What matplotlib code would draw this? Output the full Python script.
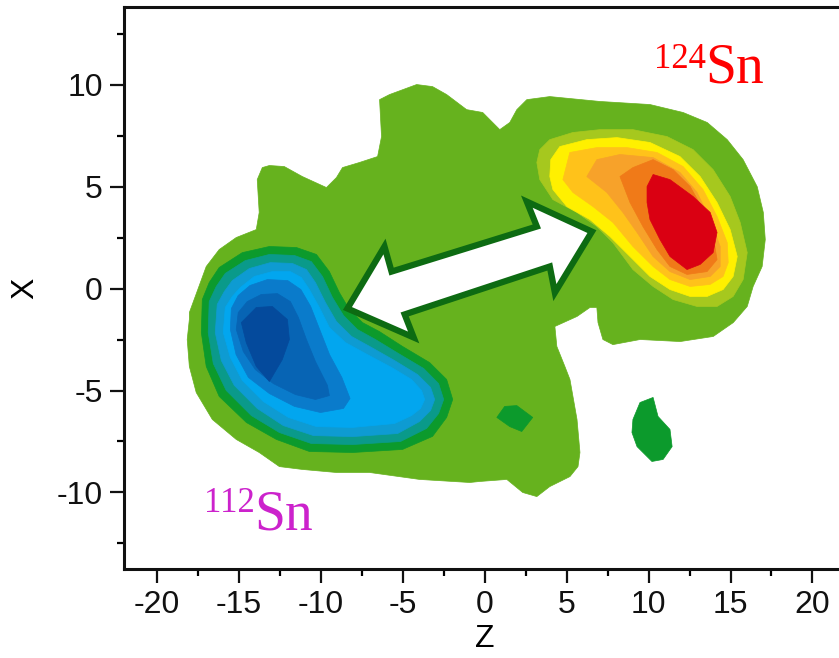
import matplotlib
matplotlib.use('Agg')
import matplotlib.pyplot as plt
from matplotlib.ticker import MultipleLocator

plt.rcParams['font.family'] = ['Liberation Sans', 'DejaVu Sans']
plt.rcParams['axes.unicode_minus'] = False

# ---- contour outlines (Z, X) ----
# outer (zero level) region
base_z = [-18.0, -18.0, -16.97, -16.18, -15.14, -13.92, -13.74, -13.86, -13.55, -13.12, -12.21,
          -11.11, -9.64, -9.03, -8.66, -7.62, -6.52, -6.28, -6.40, -5.79, -4.14, -3.17, -2.31,
          -1.09, -0.11, 0.93, 1.54, 1.97, 2.58, 3.98, 7.04, 10.09, 12.11, 13.58, 14.8, 15.77,
          16.63, 17.0, 17.12, 16.93, 16.38, 16.02, 15.17, 13.95, 11.93, 9.49, 7.83, 7.22, 6.92,
          6.85, 6.43, 5.64, 4.29, 4.41, 4.90, 5.21, 5.64, 5.82, 5.70, 5.21, 3.98, 3.19, 2.33,
          1.36, -0.29, -0.90, -3.96, -7.0, -9.03, -11.11, -12.51, -13.74, -15.14, -16.6, -17.58,
          -18.0, -18.13]
base_x = [-1.52, -1.18, 1.08, 1.91, 2.50, 2.89, 3.73, 5.34, 5.93, 6.03, 5.98, 5.49, 4.95, 5.44,
          5.93, 6.18, 6.47, 7.45, 9.26, 9.51, 10.0, 9.90, 9.51, 8.77, 8.63, 7.79, 8.14, 8.77,
          9.26, 9.41, 9.17, 9.02, 8.63, 8.14, 7.30, 6.32, 4.99, 3.73, 2.40, 1.08, 0.10, -0.88,
          -1.67, -2.35, -2.60, -2.50, -2.75, -2.50, -1.67, -0.93, -0.93, -1.37, -1.86, -2.84,
          -3.82, -4.46, -6.42, -8.04, -8.73, -9.22, -9.71, -10.20, -10.0, -9.36, -9.46, -9.51,
          -9.36, -9.02, -9.02, -8.87, -8.73, -8.04, -7.40, -6.42, -5.10, -3.82, -2.50]

# 112Sn side (negative levels)
n1_z = [-17.27, -17.21, -16.79, -16.18, -14.77, -13.12, -11.47, -10.25, -9.46, -8.85, -8.24,
        -7.44, -6.41, -5.0, -3.35, -2.31, -1.94, -2.31, -3.17, -5.0, -8.05, -10.68, -12.69,
        -14.52, -16.18, -16.97]
n1_x = [-2.16, -0.54, 0.29, 1.03, 1.76, 2.06, 2.01, 1.67, 0.83, -0.20, -1.03, -1.67, -2.11,
        -2.84, -3.63, -4.46, -5.44, -6.32, -7.25, -7.89, -8.04, -7.99, -7.40, -6.57, -5.29, -3.82]
n2_z = [-16.85, -16.79, -16.36, -15.81, -14.59, -13.12, -11.59, -10.56, -9.88, -9.27, -8.60,
        -7.75, -6.65, -5.24, -3.71, -2.80, -2.49, -2.80, -3.53, -5.12, -8.05, -10.56, -12.51,
        -14.22, -15.75, -16.54]
n2_x = [-2.16, -0.64, 0.10, 0.74, 1.37, 1.67, 1.62, 1.32, 0.59, -0.44, -1.32, -2.01, -2.50,
        -3.19, -3.92, -4.66, -5.44, -6.13, -6.86, -7.50, -7.65, -7.60, -7.06, -6.23, -5.0, -3.68]
n3_z = [-16.42, -16.30, -15.87, -15.38, -14.34, -13.06, -11.72, -10.86, -10.31, -9.70, -9.03,
        -8.11, -6.89, -5.49, -4.08, -3.29, -3.04, -3.29, -3.96, -5.30, -8.05, -10.43, -12.27,
        -13.86, -15.26, -16.05]
n3_x = [-2.16, -0.78, -0.15, 0.39, 0.98, 1.27, 1.23, 0.93, 0.29, -0.69, -1.62, -2.35, -2.89,
        -3.53, -4.22, -4.85, -5.44, -5.98, -6.52, -7.11, -7.26, -7.21, -6.72, -5.88, -4.75, -3.53]
n4_z = [-15.93, -15.81, -15.38, -14.89, -14.04, -12.94, -11.84, -11.17, -10.68, -10.07, -9.46,
        -8.48, -7.14, -5.67, -4.45, -3.84, -3.65, -3.90, -4.45, -5.49, -8.05, -10.25, -11.96,
        -13.49, -14.77, -15.50]
n4_x = [-2.16, -0.93, -0.39, 0.05, 0.59, 0.83, 0.83, 0.54, -0.05, -0.93, -1.91, -2.65, -3.24,
        -3.87, -4.46, -5.0, -5.44, -5.88, -6.23, -6.62, -6.81, -6.77, -6.32, -5.54, -4.51, -3.38]
n5_z = [-15.50, -15.44, -15.02, -14.30, -13.24, -12.00, -11.20, -10.60, -10.05, -9.45, -8.70,
        -8.20, -8.60, -10.00, -11.59, -13.12, -14.40, -15.15]
n5_x = [-2.01, -0.98, -0.34, 0.15, 0.44, 0.39, -0.05, -0.88, -2.01, -3.24, -4.36, -5.39, -5.88,
        -6.08, -5.78, -5.15, -4.36, -3.24]
n6_z = [-15.14, -15.02, -14.47, -13.61, -12.63, -11.84, -11.35, -10.86, -10.31, -9.58, -9.46,
        -10.31, -11.53, -12.88, -13.98, -14.71]
n6_x = [-2.01, -1.18, -0.64, -0.29, -0.25, -0.64, -1.42, -2.50, -3.58, -4.75, -5.25, -5.44,
        -5.20, -4.66, -3.97, -3.09]
n7_z = [-14.83, -13.92, -12.94, -12.02, -11.90, -12.33, -13.12, -13.92, -14.53]
n7_x = [-1.67, -0.93, -0.88, -1.52, -2.50, -3.48, -4.56, -3.82, -2.65]

# small negative islands
s1_z = [0.75, 1.23, 1.97, 2.94, 2.27, 1.54]
s1_x = [-6.32, -5.78, -5.74, -6.32, -7.01, -6.77]
s2_z = [8.99, 9.05, 9.48, 10.28, 10.58, 11.31, 11.44, 10.89, 10.21, 9.30]
s2_x = [-7.06, -6.42, -5.59, -5.34, -6.27, -6.91, -7.75, -8.38, -8.48, -7.75]

# 124Sn side (positive levels)
p1_z = [3.19, 3.37, 3.98, 5.39, 7.04, 9.05, 11.13, 12.72, 13.94, 14.98, 15.59, 16.02, 15.77,
        15.16, 14.18, 12.96, 11.50, 10.28, 9.05, 7.83, 6.85, 5.63, 4.17, 3.37]
p1_x = [6.18, 6.81, 7.30, 7.65, 7.79, 7.79, 7.45, 6.81, 5.83, 4.51, 3.24, 1.76, 0.44, -0.39,
        -0.88, -0.88, -0.54, 0.10, 0.93, 2.25, 3.04, 3.73, 4.36, 5.34]
p2_z = [3.98, 4.04, 4.59, 6.24, 8.08, 10.09, 11.92, 13.15, 14.18, 14.98, 15.41, 15.16, 14.55,
        13.57, 12.54, 11.31, 10.09, 8.87, 7.65, 6.43, 5.02, 4.17]
p2_x = [5.49, 6.32, 6.96, 7.30, 7.40, 7.16, 6.47, 5.49, 4.22, 2.89, 1.57, 0.59, -0.05, -0.39,
        -0.39, -0.05, 0.59, 1.57, 2.55, 3.38, 4.02, 4.85]
p3_z = [4.78, 5.20, 6.85, 8.69, 10.52, 12.11, 13.33, 14.18, 14.80, 14.86, 14.55, 13.76, 12.54,
        11.31, 10.28, 9.05, 7.83, 6.61, 5.39]
p3_x = [5.34, 6.67, 6.91, 6.91, 6.67, 5.98, 4.85, 3.53, 2.25, 1.27, 0.59, 0.20, 0.10, 0.44,
        1.08, 2.06, 3.24, 4.02, 4.71]
p4_z = [6.24, 6.85, 8.26, 10.28, 11.92, 12.96, 13.76, 14.37, 14.37, 13.76, 12.54, 11.31, 10.28,
        9.30, 8.44, 7.46]
p4_x = [5.49, 6.32, 6.57, 6.42, 5.69, 4.71, 3.38, 2.06, 1.08, 0.59, 0.44, 0.83, 1.57, 2.75,
        3.73, 4.71]
p5_z = [8.26, 9.05, 10.28, 11.50, 12.54, 13.33, 13.94, 14.18, 13.57, 12.35, 11.31, 10.52, 9.66,
        8.87]
p5_x = [5.49, 5.93, 6.32, 5.83, 5.0, 3.87, 2.55, 1.42, 0.83, 0.69, 1.08, 1.91, 3.04, 4.22]
p6_z = [9.91, 10.28, 11.31, 12.72, 13.76, 14.18, 13.94, 13.15, 12.35, 11.31, 10.70, 10.09, 9.91]
p6_x = [5.0, 5.59, 5.34, 4.51, 3.73, 2.75, 1.76, 1.18, 0.93, 1.57, 2.40, 3.38, 4.22]

# double-headed arrow outline
arrow_z = [-8.36, -6.10, -5.67, 3.19, 2.58, 6.55, 4.29, 3.98, -4.87, -4.32]
arrow_x = [-0.98, 2.06, 0.83, 3.04, 4.26, 2.79, -0.20, 1.08, -1.27, -2.40]

neg_colors = ['#0c9a2c', '#0a9a8a', '#0e9bd2', '#02a6ef', '#0a7bcb', '#0764b4', '#044a9c']
pos_colors = ['#a6c81e', '#fff000', '#ffc21a', '#f7a22a', '#f07a18', '#da0012']
neg_levels = [(n1_z, n1_x), (n2_z, n2_x), (n3_z, n3_x), (n4_z, n4_x),
              (n5_z, n5_x), (n6_z, n6_x), (n7_z, n7_x)]
pos_levels = [(p1_z, p1_x), (p2_z, p2_x), (p3_z, p3_x), (p4_z, p4_x),
              (p5_z, p5_x), (p6_z, p6_x)]

fig = plt.figure(figsize=(8.39, 6.58), dpi=100)
ax = fig.add_axes([0.1475, 0.1353, 0.86, 0.854])

ax.fill(base_z, base_x, color='#66b21e', lw=0.5, zorder=1)
for k, ((zz, xx), c) in enumerate(zip(neg_levels, neg_colors)):
    ax.fill(zz, xx, color=c, lw=0.5, zorder=2 + k)
for k, ((zz, xx), c) in enumerate(zip(pos_levels, pos_colors)):
    ax.fill(zz, xx, color=c, lw=0.5, zorder=2 + k)
for zz, xx in [(s1_z, s1_x), (s2_z, s2_x)]:
    ax.fill(zz, xx, color=neg_colors[0], lw=0.5, zorder=2)

ax.fill(arrow_z, arrow_x, facecolor='white', edgecolor='#0d6b12', lw=4.5,
        joinstyle='miter', zorder=20)

ax.text(10.34, 10.83, '124', color='#ff0000', fontsize=25, family='Liberation Serif',
        ha='left', va='baseline', zorder=30)
ax.text(13.45, 10.10, 'Sn', color='#ff0000', fontsize=40, family='Liberation Serif',
        ha='left', va='baseline', zorder=30)
ax.text(-17.09, -10.98, '112', color='#cc22cc', fontsize=25, family='Liberation Serif',
        ha='left', va='baseline', zorder=30)
ax.text(-14.04, -11.81, 'Sn', color='#cc22cc', fontsize=40, family='Liberation Serif',
        ha='left', va='baseline', zorder=30)

ax.set_xlim(-22, 22)
ax.set_ylim(-13.75, 13.8)
ax.xaxis.set_major_locator(MultipleLocator(5))
ax.xaxis.set_minor_locator(MultipleLocator(2.5))
ax.yaxis.set_major_locator(MultipleLocator(5))
ax.yaxis.set_minor_locator(MultipleLocator(2.5))
ax.tick_params(which='major', direction='out', length=10, width=1.6, labelsize=23,
               colors='#111111', pad=5)
ax.tick_params(which='minor', direction='out', length=5, width=1.6)
for s in ax.spines.values():
    s.set_linewidth(2.2)
    s.set_color('#111111')

ax.set_xlabel('Z', fontsize=23, labelpad=3)
ax.set_ylabel('X', fontsize=23, labelpad=12)

fig.savefig('out.png', dpi=100)
